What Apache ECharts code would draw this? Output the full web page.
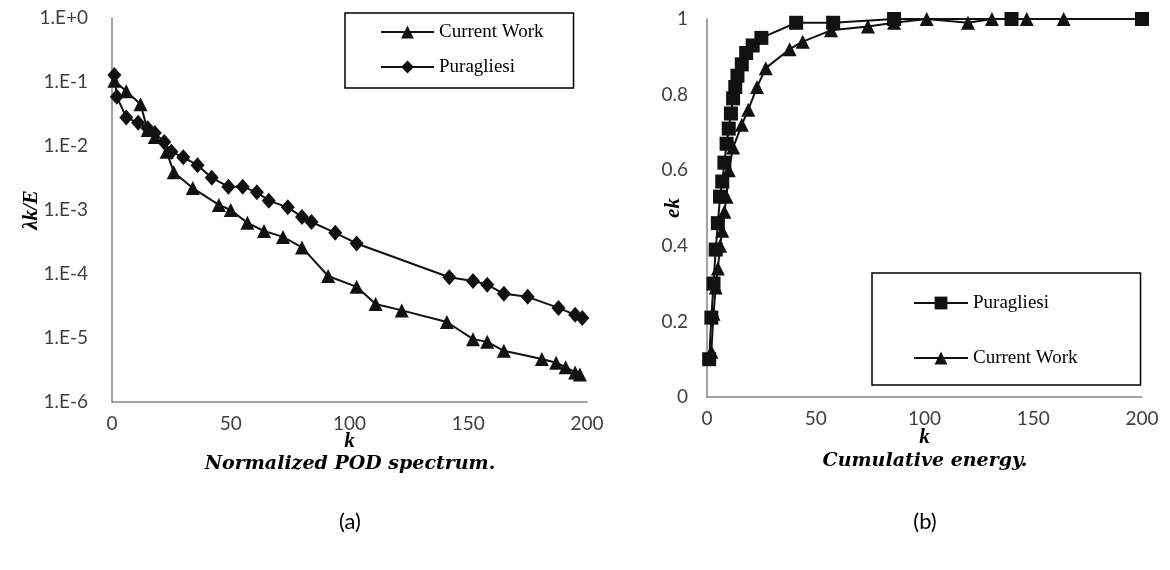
<!DOCTYPE html>
<html>
<head>
<meta charset="utf-8">
<script src="https://cdn.jsdelivr.net/npm/echarts@6/dist/echarts.min.js"></script>
<style>
  html, body { margin: 0; padding: 0; background: #fff; }
  #chart { width: 1170px; height: 570px; }
</style>
</head>
<body>
<div id="chart"></div>
<script>
// (a) Normalized POD spectrum: mode index k vs. lambda_k / E
const kCurrentA = [1, 6, 12, 15, 18, 23, 26, 34, 45, 50, 57, 64, 72, 80, 91, 103, 111, 122, 141, 152, 158, 165, 181, 187, 191, 195, 197];
const valCurrentA = [0.105, 0.072, 0.045, 0.0178, 0.0138, 0.0081, 0.0039, 0.0022, 0.0012, 0.001, 0.00063, 0.00047, 0.00038, 0.00026,
  0.000093, 0.000063, 0.000034, 0.000027, 0.0000178, 0.0000096, 0.0000087, 0.0000063, 0.0000047, 0.0000041, 0.0000035, 0.0000029, 0.0000027];

const kPuraA = [1, 2, 6, 11, 15, 18, 22, 25, 30, 36, 42, 49, 55, 61, 66, 74, 80, 84, 94, 103, 142, 152, 158, 165, 175, 188, 195, 198];
const valPuraA = [0.129, 0.059, 0.028, 0.023, 0.019, 0.016, 0.0115, 0.0081, 0.0067, 0.005, 0.0032, 0.0023, 0.0023, 0.0019, 0.0014,
  0.0011, 0.00078, 0.00065, 0.00044, 0.0003, 0.000089, 0.000078, 0.000068, 0.000049, 0.000044, 0.0000295, 0.000023, 0.0000205];

// (b) Cumulative energy e_k
const kPuraB = [1, 2, 3, 4, 5, 6, 7, 8, 9, 10, 11, 12, 13, 14, 16, 18, 21, 25, 41, 58, 86, 140, 200];
const valPuraB = [0.10, 0.21, 0.30, 0.39, 0.46, 0.53, 0.57, 0.62, 0.67, 0.71, 0.75, 0.79, 0.82, 0.85, 0.88, 0.91, 0.93, 0.95, 0.99, 0.99, 1.0, 1.0, 1.0];

const kCurrentB = [2, 3, 4, 5, 6, 7, 8, 9, 10, 12, 16, 19, 23, 27, 38, 44, 57, 74, 86, 101, 120, 131, 147, 164, 200];
const valCurrentB = [0.12, 0.22, 0.29, 0.34, 0.40, 0.44, 0.49, 0.53, 0.60, 0.66, 0.72, 0.76, 0.82, 0.87, 0.92, 0.94, 0.97, 0.98, 0.99, 1.0, 0.99, 1.0, 1.0, 1.0, 1.0];

// Tick labels of the logarithmic axis, from 1e-6 up to 1e0
const logTickLabels = ['1.E-6', '1.E-5', '1.E-4', '1.E-3', '1.E-2', '1.E-1', '1.E+0'];

// Display text for each series
const seriesLabels = {
  curA: 'Current Work', puraA: 'Puragliesi',
  puraB: 'Puragliesi', curB: 'Current Work'
};

const pairs = (ks, vs) => ks.map((k, i) => [k, vs[i]]);

const tickFont = { fontFamily: 'Lato, sans-serif', fontSize: 19, color: '#404040' };
const nameFont = { fontFamily: "'Liberation Serif', serif", fontSize: 21, fontStyle: 'italic', fontWeight: 'bold', color: '#000' };
const axisLine = { show: true, lineStyle: { color: '#868686', width: 1.5 } };
const legendText = { fontFamily: "'Liberation Serif', serif", fontSize: 19, color: '#000', lineHeight: 20 };

const lineSeries = (name, data, symbol, size, xi) => ({
  name, type: 'line', xAxisIndex: xi, yAxisIndex: xi,
  data, symbol, symbolSize: size, clip: false,
  lineStyle: { color: '#111', width: 2 },
  itemStyle: { color: '#111' },
  emphasis: { disabled: true },
  animation: false
});

const chart = echarts.init(document.getElementById('chart'), null, { renderer: 'canvas' });

chart.setOption({
  backgroundColor: '#fff',
  animation: false,
  grid: [
    { left: 112, top: 18, width: 475, height: 384 },
    { left: 707, top: 19, width: 435, height: 378 }
  ],
  xAxis: [
    {
      gridIndex: 0, type: 'value', min: 0, max: 200, interval: 50,
      name: 'k', nameLocation: 'middle', nameGap: 29, nameMoveOverlap: false, nameTextStyle: nameFont,
      axisLine, axisTick: { show: false }, splitLine: { show: false },
      axisLabel: { ...tickFont, margin: 12 }
    },
    {
      gridIndex: 1, type: 'value', min: 0, max: 200, interval: 50,
      name: 'k', nameLocation: 'middle', nameGap: 30, nameMoveOverlap: false, nameTextStyle: nameFont,
      axisLine, axisTick: { show: false }, splitLine: { show: false },
      axisLabel: { ...tickFont, margin: 12 }
    }
  ],
  yAxis: [
    {
      gridIndex: 0, type: 'log', logBase: 10, min: 1e-6, max: 1,
      name: 'λk/E', nameLocation: 'middle', nameGap: 70, nameMoveOverlap: false, nameTextStyle: nameFont,
      axisLine, axisTick: { show: false }, splitLine: { show: false },
      axisLabel: {
        ...tickFont, margin: 24,
        formatter: v => logTickLabels[Math.round(Math.log10(v)) + 6]
      }
    },
    {
      gridIndex: 1, type: 'value', min: 0, max: 1, interval: 0.2,
      name: 'ek', nameLocation: 'middle', nameGap: 23, nameMoveOverlap: false, nameTextStyle: nameFont,
      axisLine, axisTick: { show: false }, splitLine: { show: false },
      axisLabel: { ...tickFont, margin: 19 }
    }
  ],
  legend: [
    {
      data: ['curA', 'puraA'], orient: 'vertical', left: 345, top: 13,
      padding: [9, 30, 11, 35], itemGap: 15, itemWidth: 53, itemHeight: 16,
      borderColor: '#000', borderWidth: 1.5, selectedMode: false,
      formatter: n => seriesLabels[n], textStyle: legendText
    },
    {
      data: ['puraB', 'curB'], orient: 'vertical', left: 872, top: 273,
      padding: [20, 63, 17, 41], itemGap: 35, itemWidth: 54, itemHeight: 16,
      borderColor: '#000', borderWidth: 1.5, selectedMode: false,
      formatter: n => seriesLabels[n], textStyle: legendText
    }
  ],
  graphic: [
    { type: 'text', x: 350, y: 464, style: { text: 'Normalized POD spectrum.', align: 'center', verticalAlign: 'middle',
      font: "italic bold 19px 'DejaVu Serif', serif", fill: '#000' } },
    { type: 'text', x: 925, y: 461, style: { text: 'Cumulative energy.', align: 'center', verticalAlign: 'middle',
      font: "italic bold 19px 'DejaVu Serif', serif", fill: '#000' } },
    { type: 'text', x: 350, y: 522, style: { text: '(a)', align: 'center', verticalAlign: 'middle',
      font: "22px Lato, sans-serif", fill: '#000' } },
    { type: 'text', x: 925, y: 522, style: { text: '(b)', align: 'center', verticalAlign: 'middle',
      font: "22px Lato, sans-serif", fill: '#000' } }
  ],
  series: [
    lineSeries('curA', pairs(kCurrentA, valCurrentA), 'triangle', 14, 0),
    lineSeries('puraA', pairs(kPuraA, valPuraA), 'diamond', [14, 16], 0),
    lineSeries('puraB', pairs(kPuraB, valPuraB), 'rect', 14, 1),
    lineSeries('curB', pairs(kCurrentB, valCurrentB), 'triangle', 14, 1)
  ]
});
</script>
</body>
</html>
